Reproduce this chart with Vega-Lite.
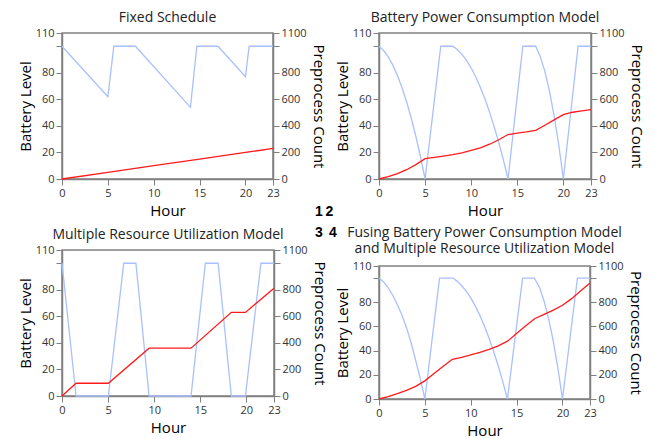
{
"$schema": "https://vega.github.io/schema/vega-lite/v6.json",
"background": "white",
"padding": {"left": 17, "top": 10, "right": 5, "bottom": 5},
"datasets": {
"rows": [
{"panel":"1","measure":"battery","hour":0,"value":100},{"panel":"1","measure":"battery","hour":5,"value":62},{"panel":"1","measure":"battery","hour":5.65,"value":100},{"panel":"1","measure":"battery","hour":8,"value":100},{"panel":"1","measure":"battery","hour":14,"value":54},{"panel":"1","measure":"battery","hour":14.7,"value":100},{"panel":"1","measure":"battery","hour":17,"value":100},{"panel":"1","measure":"battery","hour":20,"value":77},{"panel":"1","measure":"battery","hour":20.4,"value":100},{"panel":"1","measure":"battery","hour":23,"value":100},
{"panel":"1","measure":"count","hour":0,"value":0},{"panel":"1","measure":"count","hour":5,"value":50},{"panel":"1","measure":"count","hour":10,"value":100},{"panel":"1","measure":"count","hour":15,"value":150},{"panel":"1","measure":"count","hour":20,"value":200},{"panel":"1","measure":"count","hour":23,"value":230},
{"panel":"2","measure":"battery","hour":0,"value":100},{"panel":"2","measure":"battery","hour":0.5,"value":96.8},{"panel":"2","measure":"battery","hour":1,"value":92},{"panel":"2","measure":"battery","hour":1.5,"value":85.8},{"panel":"2","measure":"battery","hour":2,"value":78},{"panel":"2","measure":"battery","hour":2.5,"value":68.8},{"panel":"2","measure":"battery","hour":3,"value":58},{"panel":"2","measure":"battery","hour":3.5,"value":45.8},{"panel":"2","measure":"battery","hour":4,"value":32},{"panel":"2","measure":"battery","hour":4.5,"value":16.8},{"panel":"2","measure":"battery","hour":5,"value":0},{"panel":"2","measure":"battery","hour":6.7,"value":100},{"panel":"2","measure":"battery","hour":8,"value":100},{"panel":"2","measure":"battery","hour":8.5,"value":97.5},{"panel":"2","measure":"battery","hour":9,"value":93.9},{"panel":"2","measure":"battery","hour":9.5,"value":89.3},{"panel":"2","measure":"battery","hour":10,"value":83.6},{"panel":"2","measure":"battery","hour":10.5,"value":76.8},{"panel":"2","measure":"battery","hour":11,"value":69},{"panel":"2","measure":"battery","hour":11.5,"value":60.2},{"panel":"2","measure":"battery","hour":12,"value":50.2},{"panel":"2","measure":"battery","hour":12.5,"value":39.3},{"panel":"2","measure":"battery","hour":13,"value":27.3},{"panel":"2","measure":"battery","hour":13.5,"value":14.2},{"panel":"2","measure":"battery","hour":14,"value":0},{"panel":"2","measure":"battery","hour":15.6,"value":100},{"panel":"2","measure":"battery","hour":17,"value":100},{"panel":"2","measure":"battery","hour":17.5,"value":92.2},{"panel":"2","measure":"battery","hour":18,"value":80.9},{"panel":"2","measure":"battery","hour":18.5,"value":66},{"panel":"2","measure":"battery","hour":19,"value":47.6},{"panel":"2","measure":"battery","hour":19.5,"value":25.6},{"panel":"2","measure":"battery","hour":20,"value":0},{"panel":"2","measure":"battery","hour":21.6,"value":100},{"panel":"2","measure":"battery","hour":23,"value":100},
{"panel":"2","measure":"count","hour":0,"value":0},{"panel":"2","measure":"count","hour":1,"value":18},{"panel":"2","measure":"count","hour":2,"value":40},{"panel":"2","measure":"count","hour":3,"value":70},{"panel":"2","measure":"count","hour":4,"value":108},{"panel":"2","measure":"count","hour":5,"value":153},{"panel":"2","measure":"count","hour":6,"value":163},{"panel":"2","measure":"count","hour":7,"value":173},{"panel":"2","measure":"count","hour":8,"value":183},{"panel":"2","measure":"count","hour":9,"value":197},{"panel":"2","measure":"count","hour":10,"value":215},{"panel":"2","measure":"count","hour":11,"value":235},{"panel":"2","measure":"count","hour":12,"value":262},{"panel":"2","measure":"count","hour":13,"value":296},{"panel":"2","measure":"count","hour":14,"value":335},{"panel":"2","measure":"count","hour":15,"value":345},{"panel":"2","measure":"count","hour":16,"value":355},{"panel":"2","measure":"count","hour":17,"value":367},{"panel":"2","measure":"count","hour":18,"value":405},{"panel":"2","measure":"count","hour":19,"value":445},{"panel":"2","measure":"count","hour":20,"value":485},{"panel":"2","measure":"count","hour":21,"value":503},{"panel":"2","measure":"count","hour":22,"value":513},{"panel":"2","measure":"count","hour":23,"value":523},
{"panel":"3","measure":"battery","hour":0,"value":100},{"panel":"3","measure":"battery","hour":1.53,"value":0},{"panel":"3","measure":"battery","hour":5.03,"value":0},{"panel":"3","measure":"battery","hour":6.7,"value":100},{"panel":"3","measure":"battery","hour":8.02,"value":100},{"panel":"3","measure":"battery","hour":9.45,"value":0},{"panel":"3","measure":"battery","hour":14,"value":0},{"panel":"3","measure":"battery","hour":15.55,"value":100},{"panel":"3","measure":"battery","hour":16.94,"value":100},{"panel":"3","measure":"battery","hour":18.37,"value":0},{"panel":"3","measure":"battery","hour":19.9,"value":0},{"panel":"3","measure":"battery","hour":21.58,"value":100},{"panel":"3","measure":"battery","hour":23,"value":100},
{"panel":"3","measure":"count","hour":0,"value":0},{"panel":"3","measure":"count","hour":1.53,"value":96},{"panel":"3","measure":"count","hour":5.03,"value":96},{"panel":"3","measure":"count","hour":9.45,"value":360},{"panel":"3","measure":"count","hour":14,"value":360},{"panel":"3","measure":"count","hour":18.37,"value":630},{"panel":"3","measure":"count","hour":19.9,"value":630},{"panel":"3","measure":"count","hour":23,"value":812},
{"panel":"4","measure":"battery","hour":0,"value":100},{"panel":"4","measure":"battery","hour":0.5,"value":96.8},{"panel":"4","measure":"battery","hour":1,"value":92},{"panel":"4","measure":"battery","hour":1.5,"value":85.8},{"panel":"4","measure":"battery","hour":2,"value":78},{"panel":"4","measure":"battery","hour":2.5,"value":69.5},{"panel":"4","measure":"battery","hour":3,"value":59},{"panel":"4","measure":"battery","hour":3.5,"value":46.5},{"panel":"4","measure":"battery","hour":4,"value":32},{"panel":"4","measure":"battery","hour":4.5,"value":16.8},{"panel":"4","measure":"battery","hour":5,"value":0},{"panel":"4","measure":"battery","hour":6.6,"value":100},{"panel":"4","measure":"battery","hour":8.05,"value":100},{"panel":"4","measure":"battery","hour":8.5,"value":97.5},{"panel":"4","measure":"battery","hour":9,"value":93.9},{"panel":"4","measure":"battery","hour":9.5,"value":89.3},{"panel":"4","measure":"battery","hour":10,"value":83.6},{"panel":"4","measure":"battery","hour":10.5,"value":76.8},{"panel":"4","measure":"battery","hour":11,"value":69},{"panel":"4","measure":"battery","hour":11.5,"value":60.2},{"panel":"4","measure":"battery","hour":12,"value":50.2},{"panel":"4","measure":"battery","hour":12.5,"value":39.3},{"panel":"4","measure":"battery","hour":13,"value":27.3},{"panel":"4","measure":"battery","hour":13.5,"value":14.2},{"panel":"4","measure":"battery","hour":14,"value":0},{"panel":"4","measure":"battery","hour":15.65,"value":100},{"panel":"4","measure":"battery","hour":16.94,"value":100},{"panel":"4","measure":"battery","hour":17.5,"value":92.2},{"panel":"4","measure":"battery","hour":18,"value":80.9},{"panel":"4","measure":"battery","hour":18.5,"value":66},{"panel":"4","measure":"battery","hour":19,"value":47.6},{"panel":"4","measure":"battery","hour":19.5,"value":25.6},{"panel":"4","measure":"battery","hour":20,"value":0},{"panel":"4","measure":"battery","hour":21.63,"value":100},{"panel":"4","measure":"battery","hour":23,"value":100},
{"panel":"4","measure":"count","hour":0,"value":0},{"panel":"4","measure":"count","hour":1,"value":20},{"panel":"4","measure":"count","hour":2,"value":45},{"panel":"4","measure":"count","hour":3,"value":72},{"panel":"4","measure":"count","hour":4,"value":105},{"panel":"4","measure":"count","hour":5,"value":150},{"panel":"4","measure":"count","hour":6,"value":210},{"panel":"4","measure":"count","hour":7,"value":270},{"panel":"4","measure":"count","hour":8,"value":328},{"panel":"4","measure":"count","hour":9,"value":345},{"panel":"4","measure":"count","hour":10,"value":365},{"panel":"4","measure":"count","hour":11,"value":385},{"panel":"4","measure":"count","hour":12,"value":410},{"panel":"4","measure":"count","hour":13,"value":440},{"panel":"4","measure":"count","hour":14,"value":478},{"panel":"4","measure":"count","hour":15,"value":542},{"panel":"4","measure":"count","hour":16,"value":605},{"panel":"4","measure":"count","hour":17,"value":666},{"panel":"4","measure":"count","hour":18,"value":700},{"panel":"4","measure":"count","hour":19,"value":735},{"panel":"4","measure":"count","hour":20,"value":775},{"panel":"4","measure":"count","hour":21,"value":830},{"panel":"4","measure":"count","hour":22,"value":895},{"panel":"4","measure":"count","hour":23,"value":960}
]
},
"data": {"name": "rows"},
"bounds": "full",
"spacing": -3,
"hconcat": [
{"vconcat": [
{"width": 211, "height": 146, "title": {"text": "Fixed Schedule"},
 "layer": [
  {"transform": [{"filter": "datum.panel=='1' && datum.measure=='battery'"}],
   "mark": {"type": "line", "color": "#a9c0ff", "strokeWidth": 1.3},
   "encoding": {"x": {"field": "hour", "type": "quantitative", "scale": {"domain": [0, 23], "nice": false}, "axis": {"values": [0, 5, 10, 15, 20, 23], "title": "Hour"}},
    "y": {"field": "value", "type": "quantitative", "scale": {"domain": [0, 110], "nice": false}, "axis": {"orient": "left", "values": [0, 20, 40, 60, 80, 100, 110], "labelExpr": "datum.value == 100 ? '' : datum.label", "title": "Battery Level"}}}},
  {"transform": [{"filter": "datum.panel=='1' && datum.measure=='count'"}],
   "mark": {"type": "line", "color": "#ff1a1a", "strokeWidth": 1.3},
   "encoding": {"x": {"field": "hour", "type": "quantitative", "scale": {"domain": [0, 23], "nice": false}},
    "y": {"field": "value", "type": "quantitative", "scale": {"domain": [0, 1100], "nice": false}, "axis": {"orient": "right", "format": "d", "values": [0, 200, 400, 600, 800, 1000, 1100], "labelExpr": "datum.value == 1000 ? '' : datum.label", "title": "Preprocess Count"}}}},
  {"data": {"values": [{"label": "1"}]},
   "mark": {"type": "text", "fontWeight": "bold", "fontSize": 14, "font": "Liberation Sans", "color": "#000", "baseline": "middle"},
   "encoding": {"x": {"datum": 28, "type": "quantitative", "scale": {"domain": [0, 23], "nice": false}},
    "y": {"datum": -24.5, "type": "quantitative", "scale": {"domain": [0, 110], "nice": false}, "axis": null},
    "text": {"field": "label"}}},
  {"data": {"values": [{"label": "3"}]},
   "mark": {"type": "text", "fontWeight": "bold", "fontSize": 14, "font": "Liberation Sans", "color": "#000", "baseline": "middle"},
   "encoding": {"x": {"datum": 28, "type": "quantitative", "scale": {"domain": [0, 23], "nice": false}},
    "y": {"datum": -40.5, "type": "quantitative", "scale": {"domain": [0, 110], "nice": false}, "axis": null},
    "text": {"field": "label"}}}
 ],
 "resolve": {"scale": {"y": "independent"}}},
{"width": 212, "height": 146, "title": {"text": "Multiple Resource Utilization Model"},
 "layer": [
  {"transform": [{"filter": "datum.panel=='3' && datum.measure=='battery'"}],
   "mark": {"type": "line", "color": "#a9c0ff", "strokeWidth": 1.3},
   "encoding": {"x": {"field": "hour", "type": "quantitative", "scale": {"domain": [0, 23], "nice": false}, "axis": {"values": [0, 5, 10, 15, 20, 23], "title": "Hour"}},
    "y": {"field": "value", "type": "quantitative", "scale": {"domain": [0, 110], "nice": false}, "axis": {"orient": "left", "values": [0, 20, 40, 60, 80, 100, 110], "labelExpr": "datum.value == 100 ? '' : datum.label", "title": "Battery Level"}}}},
  {"transform": [{"filter": "datum.panel=='3' && datum.measure=='count'"}],
   "mark": {"type": "line", "color": "#ff1a1a", "strokeWidth": 1.3},
   "encoding": {"x": {"field": "hour", "type": "quantitative", "scale": {"domain": [0, 23], "nice": false}},
    "y": {"field": "value", "type": "quantitative", "scale": {"domain": [0, 1100], "nice": false}, "axis": {"orient": "right", "format": "d", "values": [0, 200, 400, 600, 800, 1000, 1100], "labelExpr": "datum.value == 1000 ? '' : datum.label", "title": "Preprocess Count"}}}}
 ],
 "resolve": {"scale": {"y": "independent"}}}
], "spacing": 71, "bounds": "flush"},
{"vconcat": [
{"width": 212, "height": 146, "title": {"text": "Battery Power Consumption Model"},
 "layer": [
  {"transform": [{"filter": "datum.panel=='2' && datum.measure=='battery'"}],
   "mark": {"type": "line", "color": "#a9c0ff", "strokeWidth": 1.3},
   "encoding": {"x": {"field": "hour", "type": "quantitative", "scale": {"domain": [0, 23], "nice": false}, "axis": {"values": [0, 5, 10, 15, 20, 23], "title": "Hour"}},
    "y": {"field": "value", "type": "quantitative", "scale": {"domain": [0, 110], "nice": false}, "axis": {"orient": "left", "values": [0, 20, 40, 60, 80, 100, 110], "labelExpr": "datum.value == 100 ? '' : datum.label", "title": "Battery Level"}}}},
  {"transform": [{"filter": "datum.panel=='2' && datum.measure=='count'"}],
   "mark": {"type": "line", "color": "#ff1a1a", "strokeWidth": 1.3},
   "encoding": {"x": {"field": "hour", "type": "quantitative", "scale": {"domain": [0, 23], "nice": false}},
    "y": {"field": "value", "type": "quantitative", "scale": {"domain": [0, 1100], "nice": false}, "axis": {"orient": "right", "format": "d", "values": [0, 200, 400, 600, 800, 1000, 1100], "labelExpr": "datum.value == 1000 ? '' : datum.label", "title": "Preprocess Count"}}}},
  {"data": {"values": [{"label": "2"}]},
   "mark": {"type": "text", "fontWeight": "bold", "fontSize": 14, "font": "Liberation Sans", "color": "#000", "baseline": "middle"},
   "encoding": {"x": {"datum": -5.37, "type": "quantitative", "scale": {"domain": [0, 23], "nice": false}},
    "y": {"datum": -24.5, "type": "quantitative", "scale": {"domain": [0, 110], "nice": false}, "axis": null},
    "text": {"field": "label"}}},
  {"data": {"values": [{"label": "4"}]},
   "mark": {"type": "text", "fontWeight": "bold", "fontSize": 14, "font": "Liberation Sans", "color": "#000", "baseline": "middle"},
   "encoding": {"x": {"datum": -4.99, "type": "quantitative", "scale": {"domain": [0, 23], "nice": false}},
    "y": {"datum": -40.5, "type": "quantitative", "scale": {"domain": [0, 110], "nice": false}, "axis": null},
    "text": {"field": "label"}}}
 ],
 "resolve": {"scale": {"y": "independent"}}},
{"width": 211, "height": 133, "title": {"text": ["Fusing Battery Power Consumption Model", "and Multiple Resource Utilization Model"], "offset": 4},
 "layer": [
  {"transform": [{"filter": "datum.panel=='4' && datum.measure=='battery'"}],
   "mark": {"type": "line", "color": "#a9c0ff", "strokeWidth": 1.3},
   "encoding": {"x": {"field": "hour", "type": "quantitative", "scale": {"domain": [0, 23], "nice": false}, "axis": {"values": [0, 5, 10, 15, 20, 23], "title": "Hour"}},
    "y": {"field": "value", "type": "quantitative", "scale": {"domain": [0, 110], "nice": false}, "axis": {"orient": "left", "values": [0, 20, 40, 60, 80, 100, 110], "labelExpr": "datum.value == 100 ? '' : datum.label", "title": "Battery Level"}}}},
  {"transform": [{"filter": "datum.panel=='4' && datum.measure=='count'"}],
   "mark": {"type": "line", "color": "#ff1a1a", "strokeWidth": 1.3},
   "encoding": {"x": {"field": "hour", "type": "quantitative", "scale": {"domain": [0, 23], "nice": false}},
    "y": {"field": "value", "type": "quantitative", "scale": {"domain": [0, 1100], "nice": false}, "axis": {"orient": "right", "format": "d", "values": [0, 200, 400, 600, 800, 1000, 1100], "labelExpr": "datum.value == 1000 ? '' : datum.label", "title": "Preprocess Count"}}}}
 ],
 "resolve": {"scale": {"y": "independent"}}}
], "spacing": 87, "bounds": "flush"}
],
"config": {
 "font": "Open Sans",
 "view": {"stroke": "#808080", "strokeWidth": 1.5},
 "axis": {"grid": false, "domainColor": "#808080", "domainWidth": 1.5, "tickColor": "#808080", "tickSize": 6, "labelColor": "#333333", "labelFont": "Open Sans", "labelFontSize": 11, "labelPadding": 2, "labelFlush": false, "labelOverlap": false, "titleFont": "Open Sans", "titleFontSize": 15, "titleFontWeight": "normal", "titleColor": "#000000"},
 "axisX": {"titlePadding": 5},
 "axisLeft": {"titlePadding": 2},
 "axisRight": {"titlePadding": 4},
 "title": {"font": "Open Sans", "fontSize": 14, "fontWeight": "normal", "color": "#222222", "offset": 2, "lineHeight": 16.5}
}
}
